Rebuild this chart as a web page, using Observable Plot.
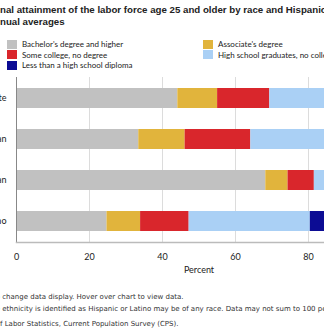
<!DOCTYPE html>
<html>
<head>
<meta charset="utf-8">
<script src="https://cdn.jsdelivr.net/npm/d3@7"></script>
<script src="https://cdn.jsdelivr.net/npm/@observablehq/plot@0.6"></script>
<style>
  html, body { margin: 0; padding: 0; background: #fff; }
  #page { position: relative; width: 324px; height: 333px; overflow: hidden; background: #fff; }
  .line { position: absolute; white-space: nowrap; }
  .title { font-family: "Liberation Sans", Arial, sans-serif; font-weight: bold; font-size: 9.7px; color: #222; }
  .note { font-family: "DejaVu Sans", sans-serif; font-size: 7px; color: #333; }
  #legend { position: absolute; left: 7px; top: 38px; width: 400px; font-family: "Lato", sans-serif; font-size: 8px; color: #222; }
  .item { position: absolute; white-space: nowrap; display: flex; align-items: center; line-height: 12px; }
  .sw { display: inline-block; width: 10px; height: 9px; margin-right: 5px; }
  #chart { position: absolute; top: 60px; width: 500px; }
  #chart svg { max-width: none !important; }
</style>
</head>
<body>
<div id="page">
  <div class="line title" id="t1" style="top:4px">Educational attainment of the labor force age 25 and older by race and Hispanic or Latino ethnicity,</div>
  <div class="line title" id="t2" style="top:16px">2023 annual averages</div>
  <div id="legend"></div>
  <div id="chart"></div>
  <div class="line note" id="n1" style="top:293px">Click legend items to change data display. Hover over chart to view data.</div>
  <div class="line note" id="n2" style="top:305px">Note: Persons whose ethnicity is identified as Hispanic or Latino may be of any race. Data may not sum to 100 percent due to rounding.</div>
  <div class="line note" id="n3" style="top:320px">Source: U.S. Bureau of Labor Statistics, Current Population Survey (CPS).</div>
</div>
<script>
const categories = ["White", "Black or African American", "Asian", "Hispanic or Latino"];
const levels = ["Bachelor's degree and higher", "Associate's degree", "Some college, no degree", "High school graduates, no college", "Less than a high school diploma"];
const colors = ["#c1c1c1", "#e1b43c", "#d9262c", "#aad0f5", "#0c0c94"];
const bachelors   = [44.2, 33.5, 68.3, 24.8];
const associates  = [10.9, 12.7, 6.1, 9.2];
const someCollege = [14.3, 18.0, 7.2, 13.3];
const highSchool  = [24.6, 29.3, 13.6, 33.2];
const lessThanHS  = [6.0, 6.5, 4.8, 19.5];
const xTicks = [0, 20, 40, 60, 80, 100];

const series = [bachelors, associates, someCollege, highSchool, lessThanHS];
const data = categories.flatMap((c, i) => levels.map((l, j) => ({category: c, level: l, value: series[j][i]})));

// Legend (two columns, row-major)
const legend = document.getElementById("legend");
levels.forEach((l, j) => {
  const it = document.createElement("div");
  it.className = "item";
  it.style.left = (j % 2 === 0 ? 0 : 196) + "px";
  it.style.top = (Math.floor(j / 2) * 10.5) + "px";
  const sw = document.createElement("span");
  sw.className = "sw";
  sw.style.background = colors[j];
  it.appendChild(sw);
  it.appendChild(document.createTextNode(l));
  legend.appendChild(it);
});

const mL = 120;
const chart = Plot.plot({
  width: 500,
  height: 222,
  marginLeft: mL,
  marginRight: 15,
  marginTop: 17,
  marginBottom: 40,
  style: {fontFamily: "Lato, sans-serif", fontSize: "9px", color: "#222", background: "transparent"},
  x: {domain: [0, 100]},
  y: {domain: categories, paddingInner: 0.52, paddingOuter: 0.26},
  color: {domain: levels, range: colors},
  marks: [
    Plot.gridX(xTicks.slice(1), {stroke: "#dcdcdc", strokeOpacity: 1}),
    Plot.barX(data, Plot.stackX({x: "value", y: "category", fill: "level"})),
    Plot.frame({anchor: "left", stroke: "#888"}),
    Plot.frame({anchor: "bottom", stroke: "#bbb", strokeWidth: 1.5}),
    Plot.axisX({ticks: xTicks, tickSize: 0, tickPadding: 11, label: "Percent", labelAnchor: "center", labelArrow: "none", labelOffset: 30}),
    Plot.axisY({tickSize: 0, tickPadding: 10, label: null})
  ]
});
const holder = document.getElementById("chart");
holder.style.left = (16 - mL) + "px";
holder.appendChild(chart);

// Place clipped text lines so the visible part starts at the left edge
function place(id, prefix) {
  const el = document.getElementById(id);
  const probe = document.createElement("span");
  probe.className = el.className;
  probe.style.position = "absolute";
  probe.style.visibility = "hidden";
  probe.textContent = prefix;
  document.getElementById("page").appendChild(probe);
  el.style.left = (-probe.getBoundingClientRect().width) + "px";
  probe.remove();
}
place("t1", "Educatio");
place("t2", "2023 an");
place("n1", "Click legend items to ");
place("n2", "Note: Persons whose ");
place("n3", "Source: U.S. Bureau o");
</script>
</body>
</html>
